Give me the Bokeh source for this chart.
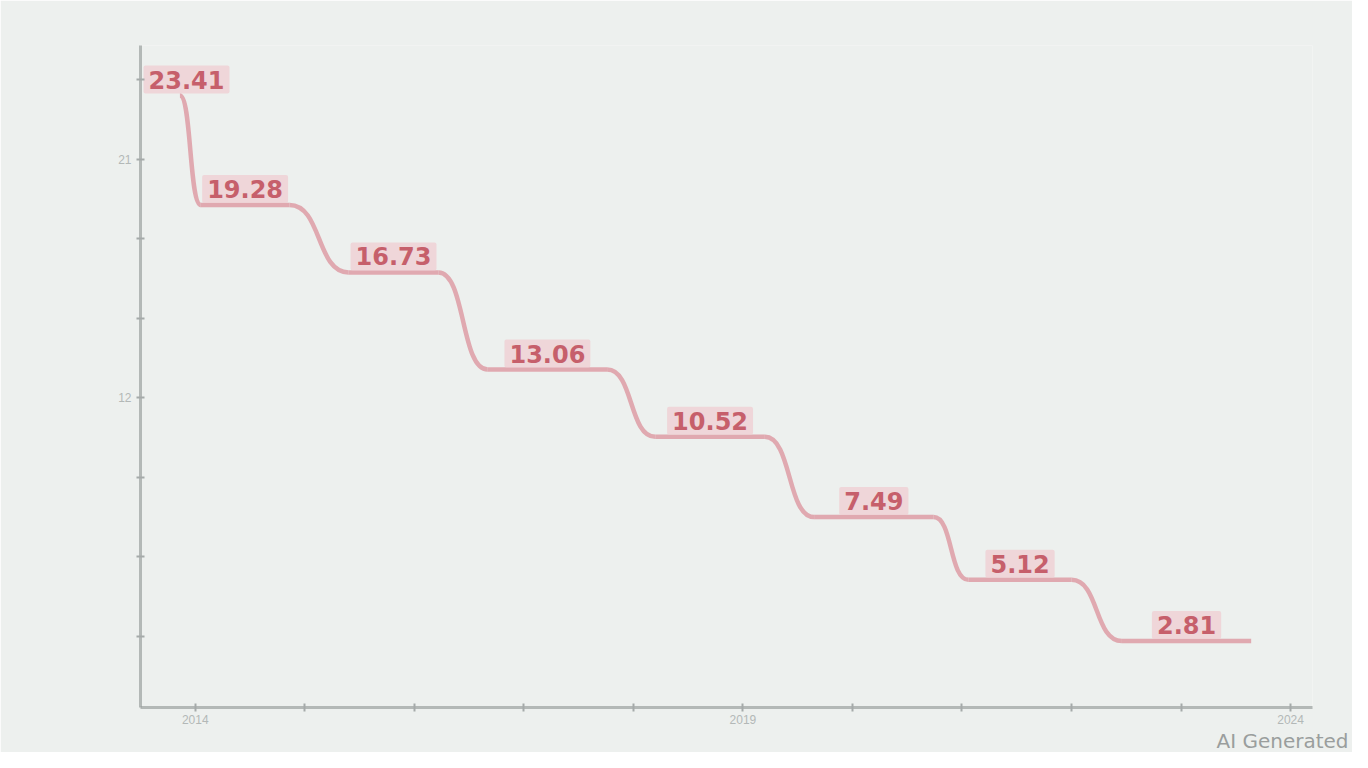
from bokeh.plotting import figure
from bokeh.models import ColumnDataSource, Title, FixedTicker, Range1d
from bokeh.core.properties import value
from bokeh.embed import file_html
from bokeh.resources import INLINE

# ---- data ----
step_start = [-0.14, 0.05, 1.40, 2.67, 4.20, 5.65, 7.06, 8.46]
step_end   = [-0.14, 0.86, 2.22, 3.76, 5.20, 6.74, 8.00, 9.64]
values     = [23.41, 19.28, 16.73, 13.06, 10.52, 7.49, 5.12, 2.81]
x_ticks = [0, 1, 2, 3, 4, 5, 6, 7, 8, 9, 10]
x_tick_labels = {0: "2014", 5: "2019", 10: "2024"}
y_ticks = [3, 6, 9, 12, 15, 18, 21, 24]
y_tick_labels = {12: "12", 21: "21"}

BG = "#edf0ee"
LINE = "#dd9ca4"
TXT = "#c65f6b"
BOX = "#efcdd1"

p = figure(width=1352, height=752, output_backend="svg", toolbar_location=None,
           x_range=Range1d(-0.5, 10.2), y_range=Range1d(0.3, 25.3),
           background_fill_color=BG, border_fill_color=BG,
           min_border_left=140, min_border_right=40, min_border_top=45, min_border_bottom=10)
p.outline_line_color = None
p.grid.visible = False

# plateaus
p.segment(x0=step_start, y0=values, x1=step_end, y1=values,
          line_color=LINE, line_width=4.5, line_alpha=0.85)

# smooth drops between plateaus
bx0, by0, bx1, by1, c0x, c0y, c1x, c1y = [], [], [], [], [], [], [], []
for i in range(len(values) - 1):
    xa, ya = step_end[i], values[i]
    xb, yb = step_start[i + 1], values[i + 1]
    dx = xb - xa
    bx0.append(xa); by0.append(ya); bx1.append(xb); by1.append(yb)
    c0x.append(xa + 0.55 * dx); c0y.append(ya)
    c1x.append(xb - 0.55 * dx); c1y.append(yb)
p.bezier(x0=bx0, y0=by0, x1=bx1, y1=by1, cx0=c0x, cy0=c0y, cx1=c1x, cy1=c1y,
         line_color=LINE, line_width=4.5, line_alpha=0.85)

# labels
lab_x = [(a + b) / 2 for a, b in zip(step_start, step_end)]
lab_x[0] = lab_x[0] + 0.06
src = ColumnDataSource(dict(x=lab_x, y=values, t=[f"{v:.2f}" for v in values]))
p.text(x="x", y="y", text="t", source=src, text_align="center",
       text_baseline="middle", y_offset=-16, text_color=TXT,
       text_font=value("DejaVu Sans"), text_font_size="24px", text_font_style="bold",
       background_fill_color=BOX, background_fill_alpha=0.75,
       padding=5, border_radius=2)

# axes
for ax in (p.xaxis[0], p.yaxis[0]):
    ax.axis_line_color = "#9a9f9e"
    ax.axis_line_width = 3
    ax.axis_line_alpha = 0.7
    ax.major_tick_line_color = "#a5aaa9"
    ax.major_tick_line_width = 2
    ax.major_tick_in = 4
    ax.major_tick_out = 4
    ax.minor_tick_line_color = None
    ax.major_label_text_color = "#b3b8b7"
    ax.major_label_text_font_size = "12px"
p.xaxis.major_label_standoff = 3
p.xaxis.ticker = FixedTicker(ticks=x_ticks)
p.xaxis.major_label_overrides = {k: x_tick_labels.get(k, "") for k in x_ticks}
p.yaxis.ticker = FixedTicker(ticks=y_ticks)
p.yaxis.major_label_overrides = {k: y_tick_labels.get(k, "") for k in y_ticks}

p.add_layout(Title(text="AI Generated", align="right", text_color="#9a9e9d",
                   text_font="DejaVu Sans", text_font_size="20px", text_font_style="normal",
                   standoff=0, offset=-36), "below")

open("out.html", "w").write(file_html(p, INLINE))
